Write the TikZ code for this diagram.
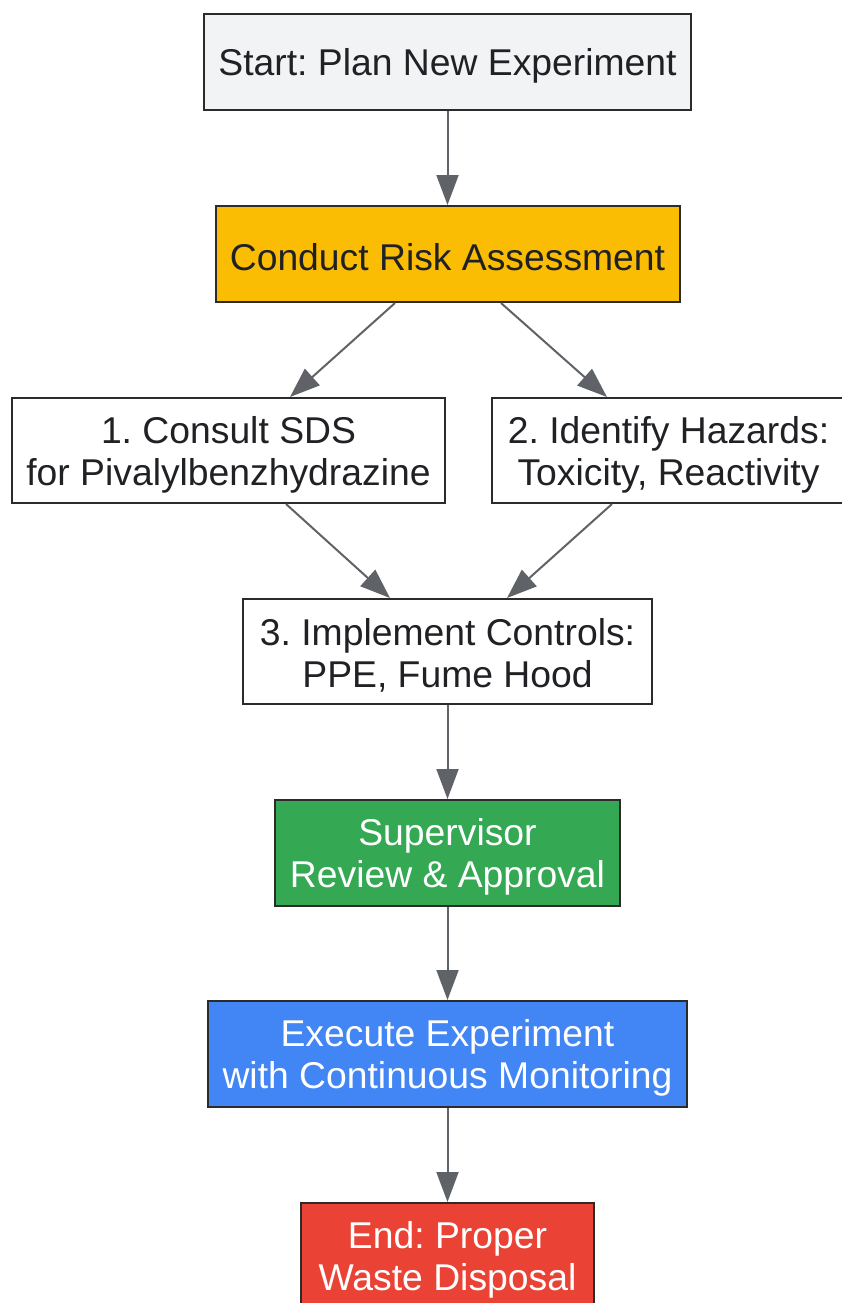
\documentclass[tikz,border=0pt]{standalone}
\usepackage{fontspec}
\setmainfont{Liberation Sans}
\usetikzlibrary{arrows.meta}
\definecolor{edge}{HTML}{5F6368}
\definecolor{bord}{HTML}{2B2B2B}
\definecolor{txt}{HTML}{202124}
\definecolor{startfill}{HTML}{F1F3F4}
\definecolor{yel}{HTML}{FBBC04}
\definecolor{grn}{HTML}{34A853}
\definecolor{blu}{HTML}{4285F4}
\definecolor{rd}{HTML}{EA4335}
\tikzset{
  box/.style={draw=bord, line width=2pt, rectangle, inner sep=0pt},
  lbl/.style={align=center, inner sep=0pt, text=txt,
    font=\fontsize{37.3}{42}\selectfont\frenchspacing},
  lblw/.style={lbl, text=white},
  conn/.style={draw=edge, line width=2pt, -{Triangle[length=30pt,width=22pt]}},
}
\begin{document}
\begin{tikzpicture}[x=1pt,y=1pt]
\useasboundingbox (0,0) rectangle (841,-1303);
\node[box, fill=startfill, minimum width=487pt, minimum height=96pt] (start) at (447.5,-62) {};
\node[box, fill=yel, minimum width=464pt, minimum height=96pt] (risk) at (447.5,-254) {};
\node[box, fill=white, minimum width=433pt, minimum height=105pt] (sds) at (228.5,-450.5) {};
\node[box, fill=white, minimum width=353pt, minimum height=105pt] (haz) at (668.5,-450.5) {};
\node[box, fill=white, minimum width=409pt, minimum height=105pt] (ctrl) at (447.5,-651.5) {};
\node[box, fill=grn, minimum width=345pt, minimum height=106pt] (sup) at (447.5,-853) {};
\node[box, fill=blu, minimum width=479pt, minimum height=106pt] (exe) at (447.5,-1054) {};
\node[box, fill=rd, minimum width=293pt, minimum height=106pt] (end) at (447.5,-1256) {};
\node[lbl] (startT) at ([yshift=-4pt]start.center) {Start: Plan New Experiment};
\node[lbl] (riskT) at ([yshift=-3pt]risk.center) {Conduct Risk Assessment};
\node[lbl] (sdsT) at ([yshift=-4pt]sds.center) {1. Consult SDS\\for Pivalylbenzhydrazine};
\node[lbl] (hazT) at ([yshift=-4pt]haz.center) {2. Identify Hazards:\\Toxicity, Reactivity};
\node[lbl] (ctrlT) at ([yshift=-4pt]ctrl.center) {3. Implement Controls:\\PPE, Fume Hood};
\node[lblw] (supT) at ([yshift=-4pt]sup.center) {Supervisor\\Review \& Approval};
\node[lblw] (exeT) at ([yshift=-4pt]exe.center) {Execute Experiment\\with Continuous Monitoring};
\node[lblw] (endT) at ([yshift=-4pt]end.center) {End: Proper\\Waste Disposal};
\draw[conn] (start.south) -- (risk.north);
\draw[conn] ([xshift=-52.5pt]risk.south) -- ([xshift=61.5pt]sds.north);
\draw[conn] ([xshift=53.5pt]risk.south) -- ([xshift=-61.5pt]haz.north);
\draw[conn] ([xshift=57.5pt]sds.south) -- ([xshift=-57.5pt]ctrl.north);
\draw[conn] ([xshift=-56.5pt]haz.south) -- ([xshift=59.5pt]ctrl.north);
\draw[conn] (ctrl.south) -- (sup.north);
\draw[conn] (sup.south) -- (exe.north);
\draw[conn] (exe.south) -- (end.north);
\end{tikzpicture}
\end{document}
